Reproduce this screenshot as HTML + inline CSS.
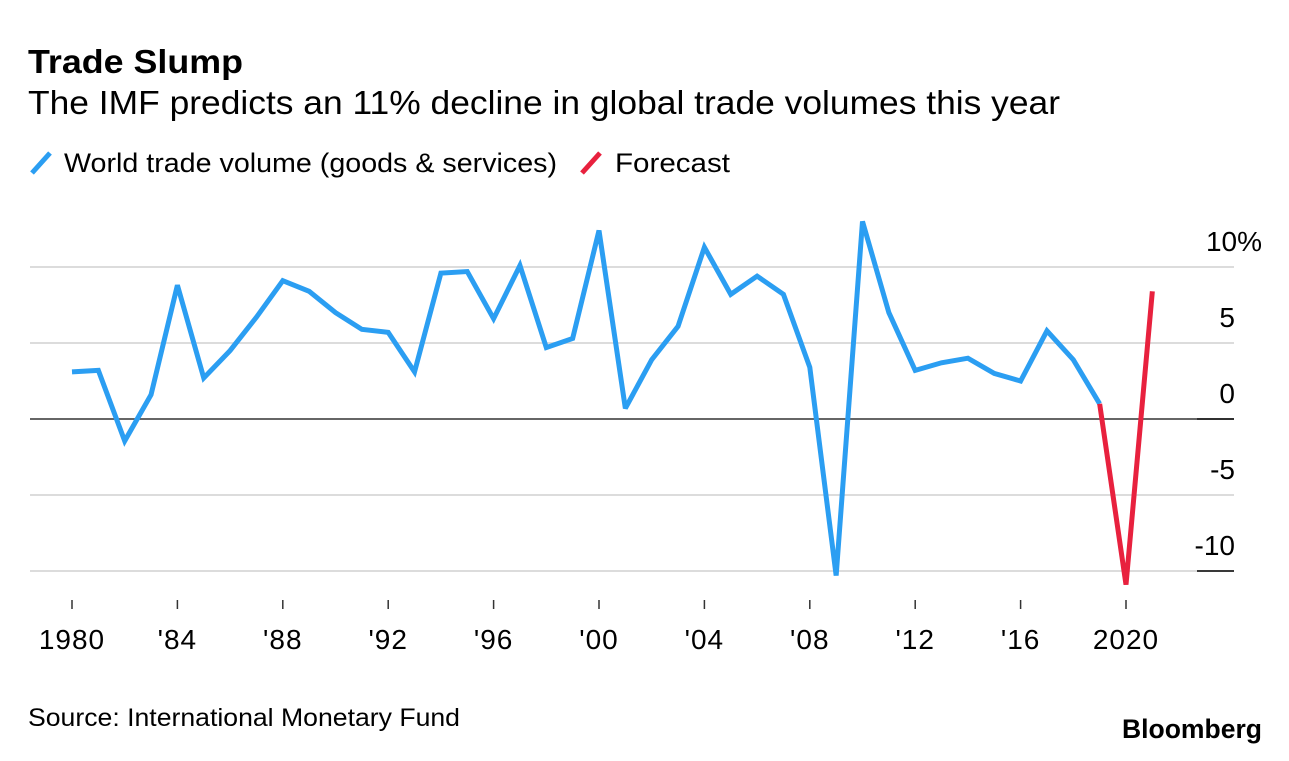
<!DOCTYPE html>
<html><head><meta charset="utf-8"><style>
body{margin:0;background:#fff;width:1289px;height:756px;overflow:hidden;font-family:"Liberation Sans",sans-serif;}
svg text{font-family:"Liberation Sans",sans-serif;}
</style></head><body>
<svg id="chart" width="1289" height="756" xmlns="http://www.w3.org/2000/svg">
<text x="28" y="73" font-size="33" font-weight="bold" fill="#000" textLength="215" lengthAdjust="spacingAndGlyphs">Trade Slump</text>
<text x="28" y="114" font-size="33" fill="#000" textLength="1032" lengthAdjust="spacingAndGlyphs">The IMF predicts an 11% decline in global trade volumes this year</text>
<g>
<line x1="32" y1="173" x2="50" y2="153" stroke="#2b9ef2" stroke-width="5"/>
<text x="64" y="172" font-size="27" fill="#000" textLength="493" lengthAdjust="spacingAndGlyphs">World trade volume (goods &amp; services)</text>
<line x1="582" y1="173" x2="600" y2="153" stroke="#e8213e" stroke-width="5"/>
<text x="615" y="172" font-size="27" fill="#000" textLength="115" lengthAdjust="spacingAndGlyphs">Forecast</text>
</g>
<g id="grid"></g><g id="series"></g><g id="xaxis"></g>
<text x="28" y="726" font-size="25" fill="#000" textLength="432" lengthAdjust="spacingAndGlyphs">Source: International Monetary Fund</text>
<text x="1122" y="738" font-size="27" font-weight="bold" fill="#000" textLength="140" lengthAdjust="spacingAndGlyphs">Bloomberg</text>
</svg>
<script>
const years=[1980,1981,1982,1983,1984,1985,1986,1987,1988,1989,1990,1991,1992,1993,1994,1995,1996,1997,1998,1999,2000,2001,2002,2003,2004,2005,2006,2007,2008,2009,2010,2011,2012,2013,2014,2015,2016,2017,2018,2019];
const trade=[3.1,3.2,-1.45,1.6,8.8,2.7,4.5,6.7,9.1,8.4,7.0,5.9,5.7,3.1,9.6,9.7,6.6,10.1,4.7,5.3,12.4,0.7,3.9,6.1,11.3,8.2,9.4,8.2,3.4,-10.3,13.0,7.0,3.2,3.7,4.0,3.0,2.5,5.8,3.9,1.0];
const forecastYears=[2019,2020,2021];
const forecast=[1.0,-10.9,8.4];
const yTicks=[10,5,0,-5,-10];
const yTickLabels=["10%","5","0","-5","-10"];
const xTicks=[1980,1984,1988,1992,1996,2000,2004,2008,2012,2016,2020];
const xTickLabels=["1980","'84","'88","'92","'96","'00","'04","'08","'12","'16","2020"];
const NS="http://www.w3.org/2000/svg";
const xS=y=>72+(y-1980)*26.35;
const yS=v=>419-v*15.2;
function mk(tag,attrs,parent){const e=document.createElementNS(NS,tag);for(const k in attrs)e.setAttribute(k,attrs[k]);parent.appendChild(e);return e;}
const grid=document.getElementById('grid');
yTicks.forEach((t,i)=>{
  const zero=t===0;
  const l=mk('line',{x1:30,x2:1234,y1:yS(t),y2:yS(t),stroke:zero?'#333':'#dcdcdc','stroke-width':zero?1.6:2},grid);
  
  
  if(t===-10||t===0){const s=mk('line',{x1:1197,x2:1234,y1:yS(t),y2:yS(t),stroke:'#222','stroke-width':1.8},grid);
    
    }
  const tx=mk('text',{x:t===10?1262:1235,y:yS(t)-16,'font-size':28,'text-anchor':'end',fill:'#000'},grid);
  tx.textContent=yTickLabels[i];
  
  
});
const xa=document.getElementById('xaxis');
xTicks.forEach((t,i)=>{
  const l=mk('line',{x1:xS(t),x2:xS(t),y1:600,y2:609,stroke:'#333','stroke-width':1.5},xa);
  
  
  const tx=mk('text',{x:xS(t),y:649,'font-size':28,'text-anchor':'middle',fill:'#000','letter-spacing':1},xa);
  tx.textContent=xTickLabels[i];
  
  
});
const se=document.getElementById('series');
const p1=mk('polyline',{points:years.map((y,i)=>xS(y)+','+yS(trade[i])).join(' '),fill:'none',stroke:'#2b9ef2','stroke-width':5,'stroke-linejoin':'miter','stroke-miterlimit':3},se);


const p2=mk('polyline',{points:forecastYears.map((y,i)=>xS(y)+','+yS(forecast[i])).join(' '),fill:'none',stroke:'#e8213e','stroke-width':5,'stroke-linejoin':'miter','stroke-miterlimit':3},se);


</script>
</body></html>
